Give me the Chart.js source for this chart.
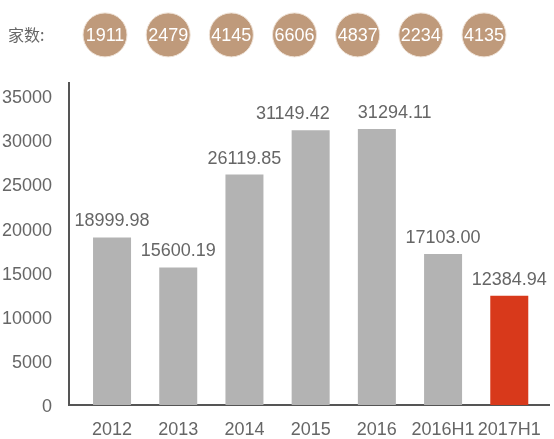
<!DOCTYPE html>
<html><head><meta charset="utf-8">
<script src="https://cdn.jsdelivr.net/npm/chart.js@4/dist/chart.umd.min.js"></script>
<style>html,body{margin:0;padding:0;background:#fff}#wrap{width:554px;height:439px}</style>
</head><body><div id="wrap"><canvas id="c" width="554" height="439"></canvas></div>
<script>
const categories = ['2012','2013','2014','2015','2016','2016H1','2017H1'];
const values = [18999.98, 15600.19, 26119.85, 31149.42, 31294.11, 17103.00, 12384.94];
const valueLabels = ['18999.98','15600.19','26119.85','31149.42','31294.11','17103.00','12384.94'];
const companyCounts = [1911, 2479, 4145, 6606, 4837, 2234, 4135];
const countLabel = '家数:';
const yTicks = [0, 5000, 10000, 15000, 20000, 25000, 30000, 35000];

const barColors = categories.map((c, i) => i === categories.length - 1 ? '#D8391B' : '#B3B3B3');

Chart.defaults.font.family = '"Liberation Sans", Arial, sans-serif';
Chart.defaults.font.size = 18;
Chart.defaults.color = '#666';

const labelPlugin = {
  id: 'labels',
  afterDatasetsDraw(chart) {
    const ctx = chart.ctx;
    const barMeta = chart.getDatasetMeta(0);
    const xc = chart.scales.xc, yc = chart.scales.yc;
    const cy = yc.getPixelForValue(1);
    ctx.save();
    // circles for company counts, positioned through the hidden xc/yc scales
    companyCounts.forEach((c, i) => {
      const cx = xc.getPixelForValue(i);
      ctx.beginPath();
      ctx.arc(cx, cy, 22, 0, Math.PI * 2);
      ctx.fillStyle = '#BF9A7B';
      ctx.fill();
      ctx.lineWidth = 1;
      ctx.strokeStyle = '#EFE3D8';
      ctx.stroke();
    });
    ctx.font = '18px "Liberation Sans", Arial, sans-serif';
    ctx.textBaseline = 'middle';
    ctx.textAlign = 'center';
    ctx.fillStyle = '#fff';
    companyCounts.forEach((c, i) => ctx.fillText(String(c), xc.getPixelForValue(i), cy + 1));

    // bar value labels, centred; adjacent labels that would collide are pushed apart
    const bars = barMeta.data;
    const boxes = bars.map((bar, i) => {
      const w = ctx.measureText(valueLabels[i]).width;
      return { x: bar.x, y: bar.y - 16, w, align: 'center', left: bar.x - w / 2, right: bar.x + w / 2 };
    });
    for (let i = 0; i < boxes.length - 1; i++) {
      const a = boxes[i], b = boxes[i + 1];
      if (a.right + 4 > b.left && Math.abs(a.y - b.y) < 20) {
        const ba = bars[i], bb = bars[i + 1];
        a.align = 'right'; a.x = ba.x + ba.width / 2; a.left = a.x - a.w; a.right = a.x;
        b.align = 'left'; b.x = bb.x - bb.width / 2; b.left = b.x; b.right = b.x + b.w;
      }
    }
    ctx.fillStyle = '#666';
    boxes.forEach((bx, i) => {
      ctx.textAlign = bx.align;
      ctx.fillText(valueLabels[i], bx.x, bx.y);
    });
    ctx.textAlign = 'left';
    ctx.font = '16px "Noto Sans CJK SC", sans-serif';
    ctx.fillText(countLabel, 8, cy);
    ctx.restore();
  }
};

new Chart(document.getElementById('c'), {
  type: 'bar',
  data: {
    datasets: [
      {
        label: 'value',
        data: values.map((v, i) => ({ x: i, y: v })),
        backgroundColor: barColors,
        borderWidth: 0,
        categoryPercentage: 1,
        barPercentage: 0.574,
        xAxisID: 'x',
        yAxisID: 'y'
      }
    ]
  },
  options: {
    responsive: false,
    animation: false,
    devicePixelRatio: 1,
    layout: { padding: { top: 83, right: 5, left: 0, bottom: 0 } },
    plugins: { legend: { display: false }, tooltip: { enabled: false } },
    scales: {
      x: {
        type: 'linear',
        offset: false,
        min: -0.65,
        max: 6.6,
        grid: { display: false },
        border: { display: true, color: '#555', width: 2 },
        afterBuildTicks: (axis) => { axis.ticks = categories.map((c, i) => ({ value: i })); },
        ticks: { padding: 6, color: '#666', maxRotation: 0, minRotation: 0, autoSkip: false,
                 callback: (v) => categories[v] },
        afterFit: (s) => { s.height = 34; s.paddingLeft = 0; s.paddingRight = 0; }
      },
      y: {
        min: 0,
        max: 36500,
        grid: { display: false },
        border: { display: true, color: '#555', width: 2 },
        afterBuildTicks: (axis) => { axis.ticks = yTicks.map(v => ({ value: v })); },
        ticks: { padding: 9, color: '#666', labelOffset: 2, callback: (v) => String(v) },
        afterFit: (s) => { s.width = 69; s.paddingTop = 0; s.paddingBottom = 0; }
      },
      xc: { type: 'linear', display: false, offset: false, min: -0.57, max: 7.029 },
      yc: { type: 'linear', display: false, min: 0, max: 0.87 }
    }
  },
  plugins: [labelPlugin]
});
</script>
</body></html>
